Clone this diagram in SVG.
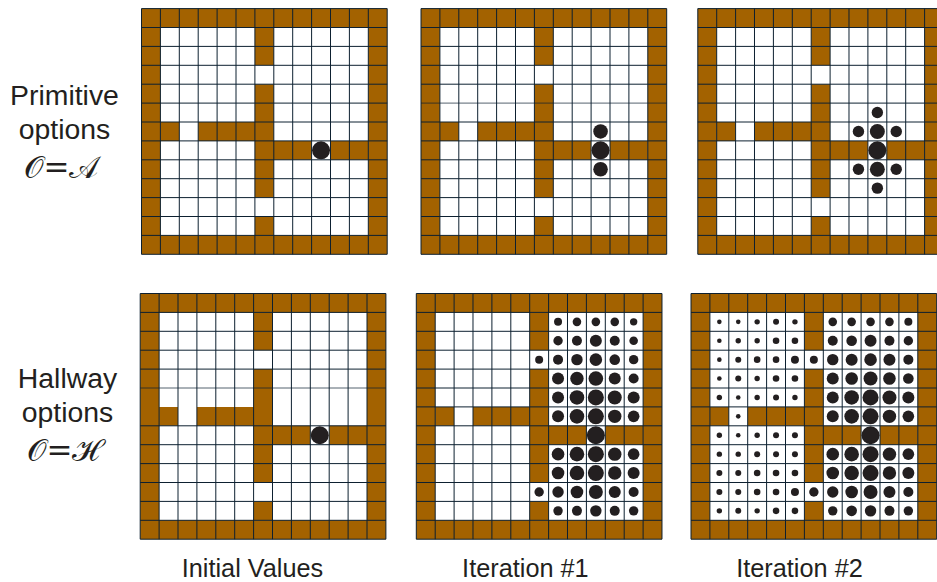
<svg xmlns="http://www.w3.org/2000/svg" width="937" height="582" viewBox="0 0 937 582">
<style>
.w{fill:#a36200}
.g{stroke:#0d2030;stroke-width:1;fill:none}
.f{stroke:#0d2030;stroke-width:1;fill:none;stroke-opacity:.7}
circle{fill:#231f20}
text{font-family:"Liberation Sans",Arial,sans-serif;fill:#231f20;text-anchor:middle}
.l{font-size:28.4px}
.b{font-size:25.3px}
.m{font-family:"DejaVu Serif","Liberation Serif",serif;font-size:31px}
</style>
<defs>
<g id="base">
<rect width="245.7" height="245.7" fill="#fff"/>
<path class="w" d="M0 0H245.7V245.7H0ZM18.9 18.9V226.8H226.8V18.9Z" fill-rule="evenodd"/>
<path class="w" d="M113.4 18.9h18.9v37.8h-18.9ZM113.4 75.6h18.9v113.4h-18.9ZM113.4 207.9h18.9v18.9h-18.9ZM18.9 113.4h18.9v18.9h-18.9ZM56.7 113.4h56.7v18.9h-56.7ZM132.3 132.3h37.8v18.9h-37.8ZM189 132.3h37.8v18.9h-37.8Z"/>
<path class="g" d="M0 0V245.7M18.9 0V245.7M37.8 0V245.7M56.7 0V245.7M75.6 0V245.7M94.5 0V245.7M113.4 0V245.7M132.3 0V245.7M151.2 0V245.7M170.1 0V245.7M189 0V245.7M207.9 0V245.7M226.8 0V245.7M245.7 0V245.7M0 0H245.7M0 18.9H245.7M0 37.8H245.7M0 56.7H245.7M0 75.6H245.7M0 132.3H245.7M0 151.2H245.7M0 170.1H245.7M0 189H245.7M0 207.9H245.7M0 226.8H245.7M0 245.7H245.7"/>
</g>
<path id="row5" class="g" d="M0 94.5H245.7"/>
<path id="row6" class="g" d="M0 113.4H245.7"/>
<path id="row5f" class="f" d="M0 94.5H245.7"/>
<g id="right-room">
<circle cx="141.75" cy="103.95" r="6"/><circle cx="160.65" cy="103.95" r="7.3"/><circle cx="179.55" cy="103.95" r="8"/><circle cx="198.45" cy="103.95" r="7"/><circle cx="217.35" cy="103.95" r="6"/>
<circle cx="141.75" cy="122.85" r="6"/><circle cx="160.65" cy="122.85" r="7.3"/><circle cx="179.55" cy="122.85" r="8"/><circle cx="198.45" cy="122.85" r="6.7"/><circle cx="217.35" cy="122.85" r="5.8"/>
<circle cx="179.55" cy="141.75" r="9"/>
<circle cx="141.75" cy="160.65" r="6.3"/><circle cx="160.65" cy="160.65" r="7.3"/><circle cx="179.55" cy="160.65" r="8"/><circle cx="198.45" cy="160.65" r="6.7"/><circle cx="217.35" cy="160.65" r="5.8"/>
<circle cx="141.75" cy="179.55" r="6.3"/><circle cx="160.65" cy="179.55" r="7.3"/><circle cx="179.55" cy="179.55" r="8"/><circle cx="198.45" cy="179.55" r="6.7"/><circle cx="217.35" cy="179.55" r="6"/>
<circle cx="122.85" cy="198.45" r="4.7"/><circle cx="141.75" cy="198.45" r="5.7"/><circle cx="160.65" cy="198.45" r="6.3"/><circle cx="179.55" cy="198.45" r="7"/><circle cx="198.45" cy="198.45" r="6"/><circle cx="217.35" cy="198.45" r="5"/>
</g>
</defs>

<g id="primitive-initial" transform="translate(141.5 8.6)">
<use href="#base"/><use href="#row5"/><use href="#row6"/>
<circle cx="179.55" cy="141.75" r="9"/>
</g>
<g id="primitive-iter1" transform="translate(421 8.6)">
<use href="#base"/><use href="#row5f"/><use href="#row6"/>
<circle cx="179.55" cy="122.85" r="7.3"/><circle cx="179.55" cy="141.75" r="9"/><circle cx="179.55" cy="160.65" r="7.3"/>
</g>
<g id="primitive-iter2" transform="translate(697.8 8.6)">
<use href="#base"/><use href="#row5"/><use href="#row6"/>
<circle cx="179.55" cy="103.95" r="5.7"/>
<circle cx="160.65" cy="122.85" r="5.7"/><circle cx="179.55" cy="122.85" r="7.5"/><circle cx="198.45" cy="122.85" r="5.7"/>
<circle cx="179.55" cy="141.75" r="9"/>
<circle cx="160.65" cy="160.65" r="5.7"/><circle cx="179.55" cy="160.65" r="7.5"/><circle cx="198.45" cy="160.65" r="5.7"/>
<circle cx="179.55" cy="179.55" r="5.7"/>
</g>
<g id="hallway-initial" transform="translate(140.2 293.5)">
<use href="#base"/><use href="#row5f"/>
<circle cx="179.55" cy="141.75" r="9"/>
</g>
<g id="hallway-iter1" transform="translate(416.3 293.5)">
<use href="#base"/><use href="#row5"/><use href="#row6"/>
<circle cx="141.75" cy="28.35" r="4"/><circle cx="160.65" cy="28.35" r="4.3"/><circle cx="179.55" cy="28.35" r="4.3"/><circle cx="198.45" cy="28.35" r="4.3"/><circle cx="217.35" cy="28.35" r="3.7"/>
<circle cx="141.75" cy="47.25" r="4.7"/><circle cx="160.65" cy="47.25" r="5"/><circle cx="179.55" cy="47.25" r="6"/><circle cx="198.45" cy="47.25" r="5"/><circle cx="217.35" cy="47.25" r="4.3"/>
<circle cx="122.85" cy="66.15" r="4"/><circle cx="141.75" cy="66.15" r="5"/><circle cx="160.65" cy="66.15" r="5.7"/><circle cx="179.55" cy="66.15" r="6.3"/><circle cx="198.45" cy="66.15" r="5.3"/><circle cx="217.35" cy="66.15" r="4.7"/>
<circle cx="141.75" cy="85.05" r="6"/><circle cx="160.65" cy="85.05" r="6.7"/><circle cx="179.55" cy="85.05" r="7.3"/><circle cx="198.45" cy="85.05" r="6"/><circle cx="217.35" cy="85.05" r="5"/>
<use href="#right-room"/>
<circle cx="141.75" cy="217.35" r="4.7"/><circle cx="160.65" cy="217.35" r="5"/><circle cx="179.55" cy="217.35" r="5.7"/><circle cx="198.45" cy="217.35" r="5"/><circle cx="217.35" cy="217.35" r="4.7"/>
</g>
<g id="hallway-iter2" transform="translate(691 293.5)">
<use href="#base"/><use href="#row5"/><use href="#row6"/>
<circle cx="28.35" cy="28.35" r="2.3"/><circle cx="47.25" cy="28.35" r="2.3"/><circle cx="66.15" cy="28.35" r="2.7"/><circle cx="85.05" cy="28.35" r="3"/><circle cx="103.95" cy="28.35" r="2.7"/>
<circle cx="28.35" cy="47.25" r="2.3"/><circle cx="47.25" cy="47.25" r="2.7"/><circle cx="66.15" cy="47.25" r="2.7"/><circle cx="85.05" cy="47.25" r="3.3"/><circle cx="103.95" cy="47.25" r="3.3"/>
<circle cx="28.35" cy="66.15" r="2.3"/><circle cx="47.25" cy="66.15" r="3"/><circle cx="66.15" cy="66.15" r="3.3"/><circle cx="85.05" cy="66.15" r="3.3"/><circle cx="103.95" cy="66.15" r="4"/><circle cx="122.85" cy="66.15" r="4"/>
<circle cx="28.35" cy="85.05" r="2.3"/><circle cx="47.25" cy="85.05" r="3"/><circle cx="66.15" cy="85.05" r="2.7"/><circle cx="85.05" cy="85.05" r="3.3"/><circle cx="103.95" cy="85.05" r="3.3"/>
<circle cx="28.35" cy="103.95" r="2.7"/><circle cx="47.25" cy="103.95" r="2.3"/><circle cx="66.15" cy="103.95" r="2.7"/><circle cx="85.05" cy="103.95" r="3"/><circle cx="103.95" cy="103.95" r="2.7"/>
<circle cx="47.25" cy="122.85" r="2.3"/>
<circle cx="28.35" cy="141.75" r="2.7"/><circle cx="47.25" cy="141.75" r="2.3"/><circle cx="66.15" cy="141.75" r="2.7"/><circle cx="85.05" cy="141.75" r="3"/><circle cx="103.95" cy="141.75" r="3"/>
<circle cx="28.35" cy="160.65" r="2.7"/><circle cx="47.25" cy="160.65" r="2.7"/><circle cx="66.15" cy="160.65" r="3"/><circle cx="85.05" cy="160.65" r="3"/><circle cx="103.95" cy="160.65" r="3"/>
<circle cx="28.35" cy="179.55" r="3"/><circle cx="47.25" cy="179.55" r="3"/><circle cx="66.15" cy="179.55" r="3.3"/><circle cx="85.05" cy="179.55" r="3.3"/><circle cx="103.95" cy="179.55" r="3.3"/>
<circle cx="28.35" cy="198.45" r="3"/><circle cx="47.25" cy="198.45" r="3"/><circle cx="66.15" cy="198.45" r="3.3"/><circle cx="85.05" cy="198.45" r="3.3"/><circle cx="103.95" cy="198.45" r="4"/>
<circle cx="28.35" cy="217.35" r="2.7"/><circle cx="47.25" cy="217.35" r="3"/><circle cx="66.15" cy="217.35" r="2.7"/><circle cx="85.05" cy="217.35" r="3.3"/><circle cx="103.95" cy="217.35" r="3.3"/>
<circle cx="141.75" cy="28.35" r="4.3"/><circle cx="160.65" cy="28.35" r="4.3"/><circle cx="179.55" cy="28.35" r="4.3"/><circle cx="198.45" cy="28.35" r="4.3"/><circle cx="217.35" cy="28.35" r="4"/>
<circle cx="141.75" cy="47.25" r="5"/><circle cx="160.65" cy="47.25" r="5.3"/><circle cx="179.55" cy="47.25" r="6"/><circle cx="198.45" cy="47.25" r="5"/><circle cx="217.35" cy="47.25" r="4.7"/>
<circle cx="141.75" cy="66.15" r="5.7"/><circle cx="160.65" cy="66.15" r="6"/><circle cx="179.55" cy="66.15" r="6.3"/><circle cx="198.45" cy="66.15" r="6"/><circle cx="217.35" cy="66.15" r="5"/>
<circle cx="141.75" cy="85.05" r="6"/><circle cx="160.65" cy="85.05" r="6.3"/><circle cx="179.55" cy="85.05" r="7"/><circle cx="198.45" cy="85.05" r="6.3"/><circle cx="217.35" cy="85.05" r="5.3"/>
<use href="#right-room"/>
<circle cx="141.75" cy="217.35" r="4.7"/><circle cx="160.65" cy="217.35" r="5.3"/><circle cx="179.55" cy="217.35" r="5.7"/><circle cx="198.45" cy="217.35" r="5"/><circle cx="217.35" cy="217.35" r="4.7"/>
</g>

<text class="l" x="64.5" y="105">Primitive</text>
<text class="l" x="64.5" y="139">options</text>
<text class="m" x="61" y="178">𝒪=𝒜</text>
<text class="l" x="67.5" y="388">Hallway</text>
<text class="l" x="67.5" y="422">options</text>
<text class="m" x="63.5" y="461">𝒪=ℋ</text>
<text class="b" x="252.5" y="577">Initial Values</text>
<text class="b" x="525.4" y="577">Iteration #1</text>
<text class="b" x="799.5" y="577">Iteration #2</text>
</svg>
